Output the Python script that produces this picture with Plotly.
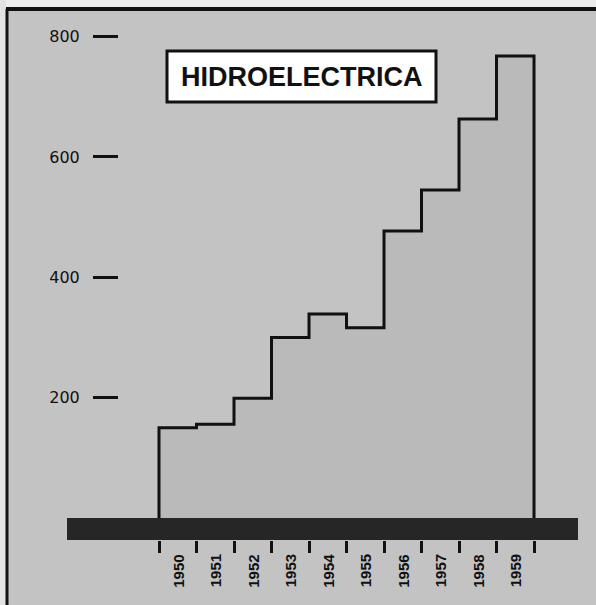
import plotly.graph_objects as go

# ---- data ----
years = [1950, 1951, 1952, 1953, 1954, 1955, 1956, 1957, 1958, 1959]
values = [150, 156, 199, 300, 339, 316, 477, 545, 663, 768]
y_ticks = [200, 400, 600, 800]
title_text = "HIDROELECTRICA"

# ---- layout geometry (pixels) ----
W, H = 596, 605
PLOT_BOTTOM = 540          # bottom of plot area (bottom of dark band)
X_RANGE = [1945.76, 1961.653]
Y_RANGE = [-36.56, 860.9]

BG = "#c3c3c3"
FILL = "#bababa"


def px_x(p):
    return p / W


def px_y(p):
    return (PLOT_BOTTOM - p) / PLOT_BOTTOM


# step outline built from the data
sx = [years[0]] + years + [years[-1] + 1, years[-1] + 1]
sy = [0] + values + [values[-1], 0]

fig = go.Figure()
fig.add_trace(go.Scatter(
    x=sx, y=sy, mode="lines", line=dict(shape="hv", color="#111111", width=3),
    fill="tozeroy", fillcolor=FILL, hoverinfo="skip", showlegend=False,
))

shapes = [
    # light strip above frame
    dict(type="rect", xref="paper", yref="paper", x0=0, x1=1, y0=px_y(8), y1=px_y(0),
         fillcolor="#ececec", line_width=0, layer="below"),
    # light strip left of frame
    dict(type="rect", xref="paper", yref="paper", x0=0, x1=px_x(6), y0=px_y(H), y1=px_y(0),
         fillcolor="#e2e2e2", line_width=0, layer="below"),
    # top frame line
    dict(type="line", xref="paper", yref="paper", x0=px_x(6), x1=1, y0=px_y(9), y1=px_y(9),
         line=dict(color="#111111", width=4)),
    # left frame line
    dict(type="line", xref="paper", yref="paper", x0=px_x(7), x1=px_x(7), y0=px_y(9), y1=px_y(H),
         line=dict(color="#111111", width=3)),
    # dark base band
    dict(type="rect", xref="paper", yref="y", x0=px_x(67), x1=px_x(578), y0=0, y1=Y_RANGE[0],
         fillcolor="#262626", line_width=0, layer="above"),
    # title box
    dict(type="rect", xref="paper", yref="paper", x0=px_x(167), x1=px_x(436),
         y0=px_y(102), y1=px_y(51), fillcolor="white",
         line=dict(color="#111111", width=3), layer="above"),
]

annotations = [
    dict(xref="paper", yref="paper", x=px_x(301.5), y=px_y(76.5), text=f"<b>{title_text}</b>",
         showarrow=False, font=dict(family="Liberation Sans", size=27, color="#111111"),
         xanchor="center", yanchor="middle"),
]
for yr in years:
    annotations.append(dict(
        xref="x", yref="paper", x=yr + 0.5, y=px_y(571), text=f"<b>{yr}</b>",
        showarrow=False, textangle=-90, xanchor="center", yanchor="middle",
        font=dict(family="Liberation Sans", size=15, color="#111111"),
    ))

fig.update_layout(
    width=W, height=H,
    margin=dict(l=0, r=0, t=0, b=H - PLOT_BOTTOM),
    paper_bgcolor=BG, plot_bgcolor=BG,
    shapes=shapes, annotations=annotations,
    xaxis=dict(range=X_RANGE, domain=[0, 1], showgrid=False, zeroline=False,
               showline=False, ticks="outside", ticklen=12, tickwidth=3,
               tickcolor="#111111", tickvals=list(range(years[0], years[-1] + 2)),
               showticklabels=False, fixedrange=True),
    yaxis=dict(range=Y_RANGE, showgrid=False, zeroline=False, showline=False,
               anchor="free", position=px_x(118), ticks="outside", ticklen=25,
               tickwidth=3, tickcolor="#111111", tickvals=y_ticks,
               ticktext=[str(v) for v in y_ticks], ticklabelstandoff=10,
               tickfont=dict(family="DejaVu Sans", size=16, color="#111111"),
               fixedrange=True),
)

fig.write_html("out.html", config={"displayModeBar": False},
               post_script="document.body.style.margin='0px';")
